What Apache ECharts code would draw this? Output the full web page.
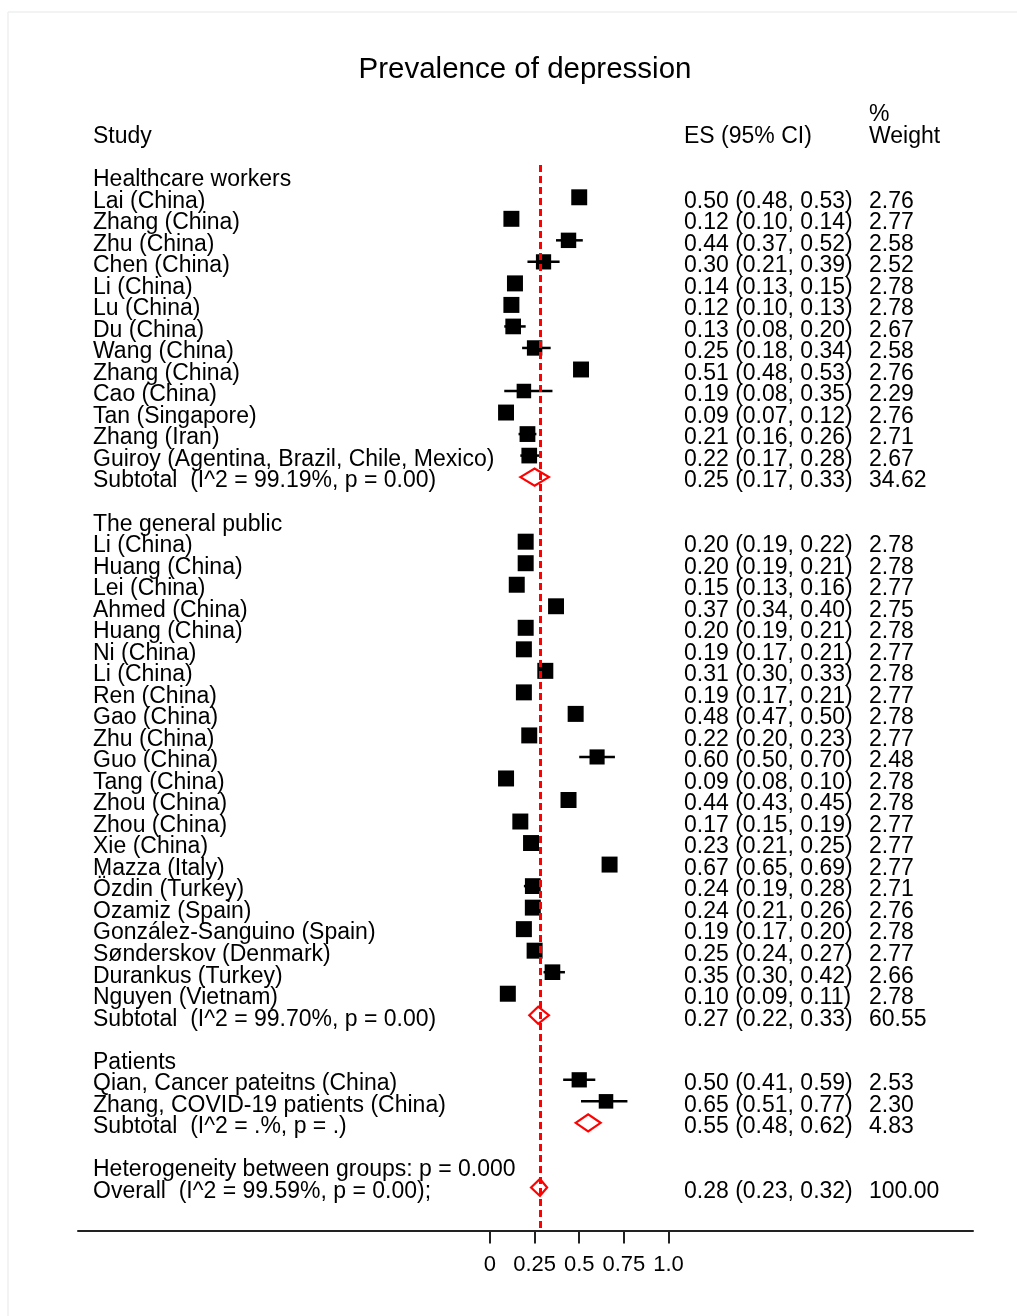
<!DOCTYPE html>
<html>
<head>
<meta charset="utf-8">
<title>Prevalence of depression</title>
<script src="https://cdn.jsdelivr.net/npm/echarts@6/dist/echarts.min.js"></script>
<style>
  html, body { margin: 0; padding: 0; background: #fff; }
  #chart { width: 1017px; height: 1316px; }
</style>
</head>
<body>
<div id="chart"></div>
<script>
// groups and studies
const groupNames = ['Healthcare workers', 'The general public', 'Patients'];
const groupSizes = [13, 22, 2];

const studies = [
  'Lai (China)', 'Zhang (China)', 'Zhu (China)', 'Chen (China)', 'Li (China)', 'Lu (China)',
  'Du (China)', 'Wang (China)', 'Zhang (China)', 'Cao (China)', 'Tan (Singapore)', 'Zhang (Iran)',
  'Guiroy (Agentina, Brazil, Chile, Mexico)',
  'Li (China)', 'Huang (China)', 'Lei (China)', 'Ahmed (China)', 'Huang (China)', 'Ni (China)',
  'Li (China)', 'Ren (China)', 'Gao (China)', 'Zhu (China)', 'Guo (China)', 'Tang (China)',
  'Zhou (China)', 'Zhou (China)', 'Xie (China)', 'Mazza (Italy)', 'Özdin (Turkey)', 'Ozamiz (Spain)',
  'González-Sanguino (Spain)', 'Sønderskov (Denmark)', 'Durankus (Turkey)', 'Nguyen (Vietnam)',
  'Qian, Cancer pateitns (China)', 'Zhang, COVID-19 patients (China)'
];
const es = [
  0.50, 0.12, 0.44, 0.30, 0.14, 0.12, 0.13, 0.25, 0.51, 0.19, 0.09, 0.21, 0.22,
  0.20, 0.20, 0.15, 0.37, 0.20, 0.19, 0.31, 0.19, 0.48, 0.22, 0.60, 0.09, 0.44, 0.17, 0.23, 0.67,
  0.24, 0.24, 0.19, 0.25, 0.35, 0.10,
  0.50, 0.65
];
const ciLow = [
  0.48, 0.10, 0.37, 0.21, 0.13, 0.10, 0.08, 0.18, 0.48, 0.08, 0.07, 0.16, 0.17,
  0.19, 0.19, 0.13, 0.34, 0.19, 0.17, 0.30, 0.17, 0.47, 0.20, 0.50, 0.08, 0.43, 0.15, 0.21, 0.65,
  0.19, 0.21, 0.17, 0.24, 0.30, 0.09,
  0.41, 0.51
];
const ciHigh = [
  0.53, 0.14, 0.52, 0.39, 0.15, 0.13, 0.20, 0.34, 0.53, 0.35, 0.12, 0.26, 0.28,
  0.22, 0.21, 0.16, 0.40, 0.21, 0.21, 0.33, 0.21, 0.50, 0.23, 0.70, 0.10, 0.45, 0.19, 0.25, 0.69,
  0.28, 0.26, 0.20, 0.27, 0.42, 0.11,
  0.59, 0.77
];
const weight = [
  2.76, 2.77, 2.58, 2.52, 2.78, 2.78, 2.67, 2.58, 2.76, 2.29, 2.76, 2.71, 2.67,
  2.78, 2.78, 2.77, 2.75, 2.78, 2.77, 2.78, 2.77, 2.78, 2.77, 2.48, 2.78, 2.78, 2.77, 2.77, 2.77,
  2.71, 2.76, 2.78, 2.77, 2.66, 2.78,
  2.53, 2.30
];

// subgroup pooled estimates
const subtotalES = [0.25, 0.27, 0.55];
const subtotalLow = [0.17, 0.22, 0.48];
const subtotalHigh = [0.33, 0.33, 0.62];
const subtotalWeight = [34.62, 60.55, 4.83];
const subtotalHet = ['I^2 = 99.19%, p = 0.00', 'I^2 = 99.70%, p = 0.00', 'I^2 = .%, p = .'];

// overall
const overallES = 0.28;
const overallLow = 0.23;
const overallHigh = 0.32;
const overallWeight = 100.00;
const overallHet = 'I^2 = 99.59%, p = 0.00';
const betweenGroupsP = '0.000';

// x axis ticks
const xTicks = [0, 0.25, 0.5, 0.75, 1.0];
const xTickLabels = ['0', '0.25', '0.5', '0.75', '1.0'];

const FONT = '"Liberation Sans", Arial, Helvetica, sans-serif';
const TEXT_SIZE = 23;
const INK = '#000';

// build table rows
const rows = [];
let r = 0;
let k = 0;
groupNames.forEach((g, gi) => {
  rows.push({type: 'header', label: g, row: r++});
  for (let j = 0; j < groupSizes[gi]; j++, k++) {
    rows.push({type: 'study', label: studies[k], es: es[k], lo: ciLow[k], hi: ciHigh[k], w: weight[k], row: r++});
  }
  rows.push({type: 'pooled', label: 'Subtotal  (' + subtotalHet[gi] + ')',
    es: subtotalES[gi], lo: subtotalLow[gi], hi: subtotalHigh[gi], w: subtotalWeight[gi], row: r++});
  r++; // blank line
});
rows.push({type: 'header', label: 'Heterogeneity between groups: p = ' + betweenGroupsP, row: r++});
rows.push({type: 'pooled', label: 'Overall  (' + overallHet + ');',
  es: overallES, lo: overallLow, hi: overallHigh, w: overallWeight, row: r++});

const studyRows = rows.filter(d => d.type === 'study');
const pooledRows = rows.filter(d => d.type === 'pooled');

const fmt = v => v.toFixed(2);

const chart = echarts.init(document.getElementById('chart'));

const option = {
  backgroundColor: '#fff',
  animation: false,
  title: {
    text: 'Prevalence of depression',
    left: 520,
    top: 50,
    textAlign: 'center',
    textStyle: {fontFamily: FONT, fontSize: 29.5, fontWeight: 'normal', color: INK}
  },
  grid: {left: 78, right: 44, top: 165, bottom: 85.5},
  xAxis: {
    type: 'value',
    min: -2.308,
    max: 2.706,
    axisLine: {show: true, onZero: false, lineStyle: {color: '#222', width: 2}},
    axisTick: {show: true, customValues: xTicks, length: 13, lineStyle: {color: '#222', width: 2}},
    axisLabel: {
      customValues: xTicks,
      margin: 23,
      fontFamily: FONT,
      fontSize: 22,
      color: INK,
      formatter: v => {
        const i = xTicks.findIndex(t => Math.abs(t - v) < 1e-9);
        return i < 0 ? '' : xTickLabels[i];
      }
    },
    splitLine: {show: false}
  },
  yAxis: {
    type: 'value',
    min: -0.5,
    max: 49,
    inverse: true,
    show: false
  },
  graphic: [
    {type: 'line', shape: {x1: 8, y1: 12, x2: 1017, y2: 12}, style: {stroke: '#eef0f0', lineWidth: 1.5}},
    {type: 'line', shape: {x1: 8, y1: 12, x2: 8, y2: 1316}, style: {stroke: '#eef0f0', lineWidth: 1.5}},
    {type: 'text', x: 93, y: 137, style: {text: 'Study', font: TEXT_SIZE + 'px ' + FONT, fill: INK, textVerticalAlign: 'middle'}},
    {type: 'text', x: 684, y: 137, style: {text: 'ES (95% CI)', font: TEXT_SIZE + 'px ' + FONT, fill: INK, textVerticalAlign: 'middle'}},
    {type: 'text', x: 869, y: 115, style: {text: '%', font: TEXT_SIZE + 'px ' + FONT, fill: INK, textVerticalAlign: 'middle'}},
    {type: 'text', x: 869, y: 137, style: {text: 'Weight', font: TEXT_SIZE + 'px ' + FONT, fill: INK, textVerticalAlign: 'middle'}}
  ],
  series: [
    {
      // reference line at the overall estimate
      type: 'line',
      data: [],
      z: 1,
      markLine: {
        silent: true,
        symbol: 'none',
        label: {show: false},
        lineStyle: {color: '#ff0000', type: [7, 4], width: 3},
        data: [{xAxis: overallES}]
      }
    },
    {
      name: 'studies',
      type: 'custom',
      z: 3,
      data: studyRows.map(d => [d.es, d.row, d.lo, d.hi, d.w]),
      encode: {x: [0, 2, 3], y: 1},
      renderItem: (params, api) => {
        const p = api.coord([api.value(0), api.value(1)]);
        const a = api.coord([api.value(2), api.value(1)]);
        const b = api.coord([api.value(3), api.value(1)]);
        const s = 16 * Math.sqrt(api.value(4) / 2.78);
        return {
          type: 'group',
          children: [
            {type: 'line', shape: {x1: a[0], y1: a[1], x2: b[0], y2: b[1]}, style: {stroke: '#000', lineWidth: 2.5}},
            {type: 'rect', shape: {x: p[0] - s / 2, y: p[1] - s / 2, width: s, height: s}, style: {fill: '#000'}}
          ]
        };
      }
    },
    {
      name: 'pooled',
      type: 'custom',
      z: 4,
      data: pooledRows.map(d => [d.es, d.row, d.lo, d.hi]),
      encode: {x: [0, 2, 3], y: 1},
      renderItem: (params, api) => {
        const p = api.coord([api.value(0), api.value(1)]);
        const a = api.coord([api.value(2), api.value(1)]);
        const b = api.coord([api.value(3), api.value(1)]);
        const h = 8.5;
        return {
          type: 'polygon',
          shape: {points: [[a[0], a[1]], [p[0], p[1] - h], [b[0], b[1]], [p[0], p[1] + h]]},
          style: {fill: 'none', stroke: '#ff0000', lineWidth: 2.2}
        };
      }
    },
    {
      // text table: study labels, ES (95% CI), weight
      name: 'table',
      type: 'custom',
      z: 5,
      silent: true,
      data: rows.map(d => [0, d.row]),
      encode: {x: 0, y: 1},
      renderItem: (params, api) => {
        const d = rows[params.dataIndex];
        const y = api.coord([0, api.value(1)])[1] + 4;
        const font = TEXT_SIZE + 'px ' + FONT;
        const children = [
          {type: 'text', x: 93, y: y, style: {text: d.label, font: font, fill: INK, verticalAlign: 'middle'}}
        ];
        if (d.es !== undefined) {
          children.push({type: 'text', x: 684, y: y,
            style: {text: fmt(d.es) + ' (' + fmt(d.lo) + ', ' + fmt(d.hi) + ')', font: font, fill: INK, verticalAlign: 'middle'}});
          children.push({type: 'text', x: 869, y: y,
            style: {text: fmt(d.w), font: font, fill: INK, verticalAlign: 'middle'}});
        }
        return {type: 'group', children: children};
      }
    }
  ]
};

chart.setOption(option);
</script>
</body>
</html>
